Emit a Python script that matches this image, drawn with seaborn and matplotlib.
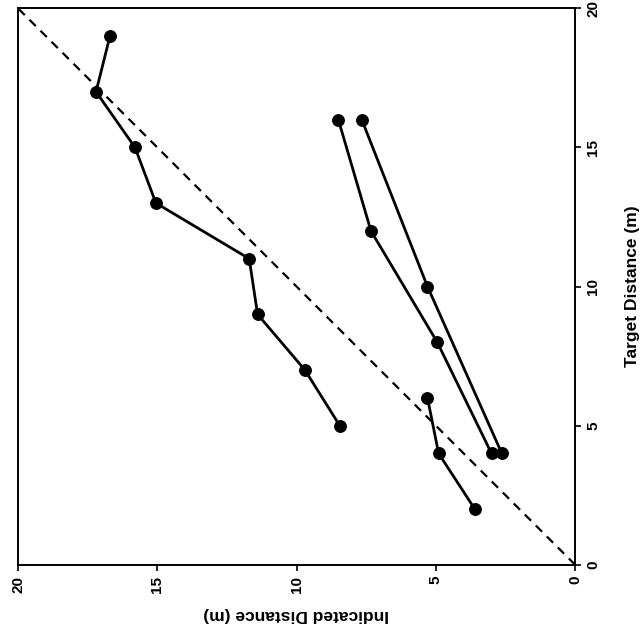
import numpy as np
import pandas as pd
import seaborn as sns
import matplotlib.pyplot as plt

# target distance (m) and indicated distance (m) for each run
target_a = [5, 7, 9, 11, 13, 15, 17, 19]
indicated_a = [8.45, 9.7, 11.4, 11.7, 15.05, 15.8, 17.2, 16.7]

target_b = [2, 4, 6]
indicated_b = [3.6, 4.9, 5.3]

target_c = [4, 8, 12, 16]
indicated_c = [3.0, 4.95, 7.33, 8.5]

target_d = [4, 10, 16]
indicated_d = [2.63, 5.3, 7.66]

diag = [0, 20]
ticks = [0, 5, 10, 15, 20]

sns.set_style("white")
plt.rcParams['font.family'] = ['Liberation Sans', 'DejaVu Sans']
plt.rcParams['font.weight'] = 'bold'
plt.rcParams['text.color'] = 'black'
plt.rcParams['axes.labelcolor'] = 'black'

fig = plt.figure(figsize=(6.44, 6.41), dpi=100)
ax = fig.add_axes([0.028, 0.119, 0.865, 0.868])

# chart is drawn turned on its side: indicated runs right-to-left, target bottom-to-top
ax.plot(diag, diag, color='black', lw=1.6, ls=(0, (4, 3)))

runs = [(target_a, indicated_a), (target_b, indicated_b),
        (target_c, indicated_c), (target_d, indicated_d)]
for tgt, ind in runs:
    df = pd.DataFrame({'indicated': ind, 'target': tgt})
    sns.lineplot(data=df, x='indicated', y='target', sort=False, estimator=None,
                 color='black', lw=2.0, marker='o', markersize=8.5,
                 markeredgecolor='black', ax=ax)

ax.set_xlim(20, 0)
ax.set_ylim(0, 20)
ax.set_xticks(ticks)
ax.set_yticks(ticks)
ax.set_xticklabels([str(t) for t in ticks], rotation=90, fontsize=11, fontweight='bold')
ax.set_yticklabels([str(t) for t in ticks], rotation=90, fontsize=11, fontweight='bold',
                   va='center')
ax.yaxis.tick_right()
ax.yaxis.set_label_position('right')
ax.tick_params(direction='out', length=4, width=1.2, colors='black', labelcolor='black',
               pad=4, bottom=True, right=True, left=False, top=False)

ax.set_xlabel('Indicated Distance (m)', rotation=180, fontsize=12.5, fontweight='bold',
              labelpad=10, color='black')
ax.set_ylabel('Target Distance (m)', rotation=90, fontsize=12.5, fontweight='bold',
              labelpad=18, color='black')

for s in ax.spines.values():
    s.set_color('black')
    s.set_linewidth(1.4)

fig.savefig('out.png', dpi=100)
